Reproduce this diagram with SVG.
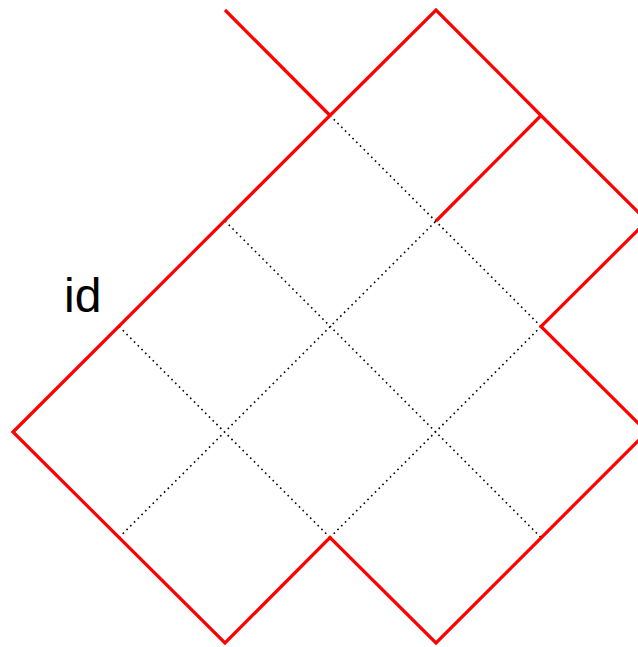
<svg xmlns="http://www.w3.org/2000/svg" width="638" height="647" viewBox="0 0 638 647">
<style>
.red{fill:none;stroke:#ff0000;stroke-width:3.2;stroke-linejoin:miter;stroke-linecap:butt}
.dot{fill:none;stroke:#000;stroke-width:1.6;stroke-dasharray:1.6 3.7}
.lbl{font-family:"Liberation Sans",Arial,sans-serif;font-size:48px;fill:#000}
</style>
<rect width="638" height="647" fill="#fff"/>
<g id="grid">
<path class="dot" d="M330,115.5 L541,326.5 M225,221 L541,537.5 M119,326.5 L330,537.5 M119,537.5 L436,221 M330,537.5 L541,326.5"/>
</g>
<g id="outline">
<path class="red" d="M225,10 L330,115.5"/>
<path class="red" d="M436,221 L541,115.5"/>
<path class="red" d="M13,432 L330,115.5 L436,10 L541,115.5 L647,221 L541,326.5 L647,432 L436,643 L330,537.5 L225,643 Z"/>
</g>
<g id="label">
<text class="lbl" x="64" y="312">id</text>
</g>
</svg>
